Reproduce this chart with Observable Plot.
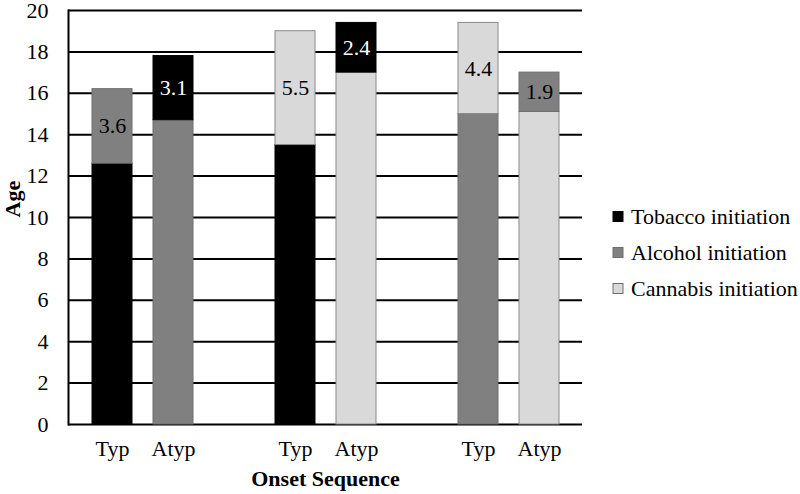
<!DOCTYPE html>
<html>
<head>
<meta charset="utf-8">
<script src="https://cdn.jsdelivr.net/npm/d3@7"></script>
<script src="https://cdn.jsdelivr.net/npm/@observablehq/plot@0.6"></script>
<style>
  html, body { margin: 0; padding: 0; background: #fff; }
  #chart svg { display: block; }
</style>
</head>
<body>
<div id="chart"></div>
<script>
// Slots on the x axis (gaps separate the three sequence pairs)
const slots = ["1T", "1A", "gap1", "2T", "2A", "gap2", "3T", "3A"];
const slotLabels = ["Typ", "Atyp", "", "Typ", "Atyp", "", "Typ", "Atyp"];
const barSlots = ["1T", "1A", "2T", "2A", "3T", "3A"];
const bottomSubstance = ["Tobacco", "Alcohol", "Tobacco", "Cannabis", "Alcohol", "Cannabis"];
const bottomAge = [12.6, 14.7, 13.5, 17.0, 15.0, 15.1];
const topSubstance = ["Alcohol", "Tobacco", "Cannabis", "Tobacco", "Cannabis", "Alcohol"];
const topAge = [16.2, 17.8, 19.0, 19.4, 19.4, 17.0];
const gapLabels = ["3.6", "3.1", "5.5", "2.4", "4.4", "1.9"];
const yTicks = [0, 2, 4, 6, 8, 10, 12, 14, 16, 18, 20];

const substances = ["Tobacco", "Alcohol", "Cannabis"];
const legendLabels = ["Tobacco initiation", "Alcohol initiation", "Cannabis initiation"];
const colors = ["#000000", "#808080", "#d9d9d9"];
const textColors = {Tobacco: "#ffffff", Alcohol: "#000000", Cannabis: "#000000"};
const strokeColors = {Tobacco: "#000000", Alcohol: "#6f6f6f", Cannabis: "#8a8a8a"};

const segments = [];
barSlots.forEach((s, i) => {
  segments.push({slot: s, substance: bottomSubstance[i], y1: 0, y2: bottomAge[i]});
  segments.push({slot: s, substance: topSubstance[i], y1: bottomAge[i], y2: topAge[i], label: gapLabels[i]});
});
const topSegs = segments.filter(d => d.label);

const font = "'Liberation Serif', 'Times New Roman', Times, serif";
const fs = 22;

const plot = Plot.plot({
  width: 800,
  height: 494,
  marginLeft: 68,
  marginRight: 218,
  marginTop: 10,
  marginBottom: 70,
  style: {fontFamily: font, fontSize: fs + "px", color: "#000", background: "#fff"},
  x: {type: "band", domain: slots, padding: 0.345, label: null},
  y: {domain: [0, 20], label: null},
  color: {domain: substances, range: colors},
  marks: [
    Plot.gridY(yTicks, {stroke: "#000", strokeOpacity: 1, strokeWidth: 2}),
    Plot.barY(segments, {
      x: "slot", y1: "y1", y2: "y2", fill: "substance",
      stroke: d => strokeColors[d.substance], strokeWidth: 1, inset: 0
    }),
    Plot.text(topSegs, {
      x: "slot", y: d => (d.y1 + d.y2) / 2, text: "label",
      fill: d => textColors[d.substance], fontSize: fs, fontFamily: font
    }),
    Plot.frame({anchor: "left", stroke: "#000", strokeWidth: 2}),
    Plot.axisY(yTicks, {tickSize: 0, tickPadding: 20, fontSize: fs, fontFamily: font, label: null}),
    Plot.axisX({tickSize: 0, tickPadding: 16, fontSize: fs, fontFamily: font, label: null,
      tickFormat: d => slotLabels[slots.indexOf(d)]}),
    Plot.text(["Age"], {frameAnchor: "left", dx: -56, rotate: -90, text: d => d,
      fontWeight: "bold", fontSize: fs, fontFamily: font}),
    Plot.text(["Onset Sequence"], {frameAnchor: "bottom", dy: 61, text: d => d,
      fontWeight: "bold", fontSize: fs, fontFamily: font})
  ]
});

document.getElementById("chart").appendChild(plot);

// Legend on the right
const svg = d3.select(plot);
const lg = svg.append("g").attr("font-family", font).attr("font-size", fs).attr("text-anchor", "start");
const rowY = [216.5, 252.5, 288.5];
substances.forEach((s, i) => {
  lg.append("rect").attr("x", 613).attr("y", rowY[i] - 5).attr("width", 10).attr("height", 10)
    .attr("fill", colors[i]).attr("stroke", i === 0 ? "#000" : "#6f6f6f").attr("stroke-width", 1);
  lg.append("text").attr("x", 631).attr("y", rowY[i]).attr("dy", "0.32em")
    .attr("fill", "#000").text(legendLabels[i]);
});
</script>
</body>
</html>
